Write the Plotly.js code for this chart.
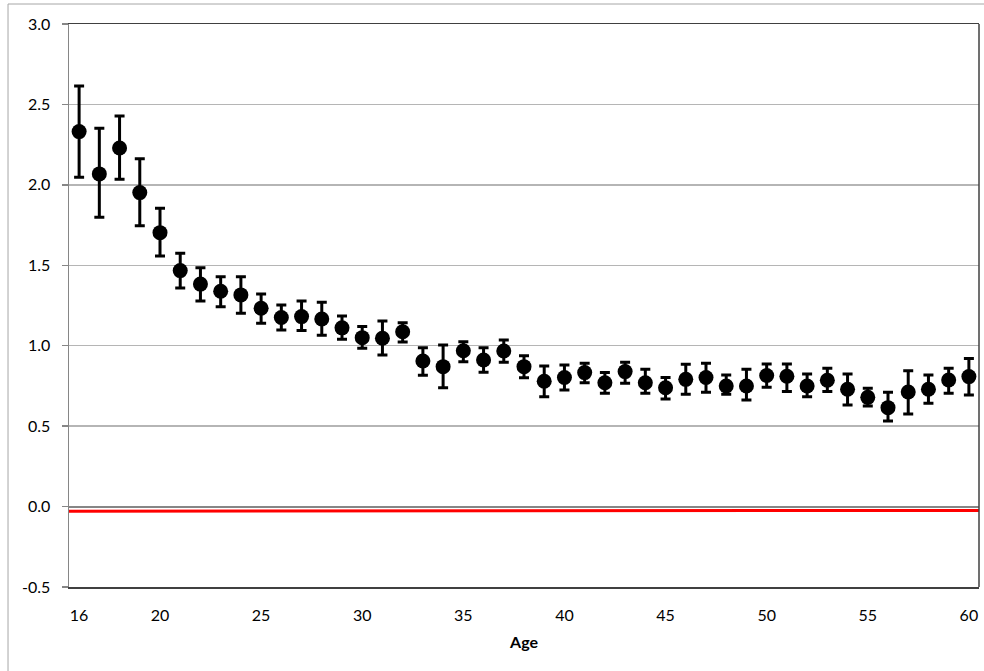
<!DOCTYPE html>
<html>
<head>
<meta charset="utf-8">
<script src="https://cdn.plot.ly/plotly-3.0.1.min.js"></script>
<style>html,body{margin:0;padding:0;background:#fff;}#chart{width:984px;height:671px;}</style>
</head>
<body>
<div id="chart"></div>
<script>
// Data
const ages = [16,17,18,19,20,21,22,23,24,25,26,27,28,29,30,31,32,33,34,35,36,37,38,39,40,41,42,43,44,45,46,47,48,49,50,51,52,53,54,55,56,57,58,59,60];
const means = [2.331,2.068,2.229,1.952,1.703,1.467,1.383,1.339,1.316,1.233,1.175,1.181,1.166,1.111,1.050,1.046,1.087,0.905,0.870,0.969,0.911,0.967,0.870,0.779,0.802,0.833,0.770,0.839,0.770,0.739,0.791,0.802,0.750,0.750,0.815,0.810,0.750,0.785,0.729,0.679,0.615,0.712,0.729,0.787,0.808];
const upper = [2.615,2.352,2.428,2.163,1.854,1.575,1.485,1.429,1.429,1.322,1.253,1.278,1.270,1.185,1.119,1.154,1.143,0.988,1.005,1.025,0.988,1.036,0.938,0.874,0.880,0.891,0.833,0.897,0.854,0.802,0.885,0.891,0.818,0.854,0.887,0.887,0.824,0.860,0.824,0.735,0.711,0.845,0.818,0.860,0.920];
const lower = [2.047,1.799,2.035,1.746,1.558,1.359,1.278,1.243,1.202,1.140,1.098,1.094,1.065,1.040,0.984,0.943,1.023,0.816,0.739,0.901,0.835,0.897,0.801,0.683,0.725,0.770,0.704,0.766,0.704,0.669,0.698,0.711,0.698,0.663,0.742,0.715,0.683,0.715,0.632,0.625,0.532,0.576,0.642,0.704,0.694];
const refX = [15.5, 60.5];
const refY = [-0.029, -0.024];
const xTicks = [16,20,25,30,35,40,45,50,55,60];
const yTicks = [-0.5,0,0.5,1,1.5,2,2.5,3];
const yTickText = ['-0.5','0.0','0.5','1.0','1.5','2.0','2.5','3.0'];

const errPlus = means.map((m,i)=>upper[i]-m);
const errMinus = means.map((m,i)=>m-lower[i]);

const traces = [
  {
    x: refX, y: refY, type: 'scatter', mode: 'lines',
    line: {color: '#ff0000', width: 3}, hoverinfo: 'skip', showlegend: false
  },
  {
    x: ages, y: means, type: 'scatter', mode: 'markers',
    marker: {color: '#000000', size: 15},
    error_y: {type: 'data', symmetric: false, array: errPlus, arrayminus: errMinus,
      color: '#000000', thickness: 3, width: 5},
    showlegend: false
  }
];

const font = "Lato, 'Open Sans', sans-serif";
const layout = {
  width: 984, height: 671,
  margin: {l: 69, r: 5, t: 24, b: 84, pad: 0},
  paper_bgcolor: '#ffffff', plot_bgcolor: '#ffffff',
  font: {family: font, size: 16, color: '#000000'},
  showlegend: false,
  xaxis: {
    range: [15.5, 60.5], tickvals: xTicks, ticktext: xTicks.map(String),
    showgrid: false, zeroline: false,
    showline: true, linecolor: '#404040', linewidth: 1.5, mirror: true,
    ticks: 'outside', ticklen: 13, tickcolor: 'rgba(0,0,0,0)',
    tickfont: {family: font, size: 16},
    title: {text: '<b>Age</b>', font: {family: font, size: 16}, standoff: 14}
  },
  yaxis: {
    range: [-0.5, 3.0], tickvals: yTicks, ticktext: yTickText,
    showgrid: true, gridcolor: '#b5b5b5', gridwidth: 1.5,
    zeroline: true, zerolinecolor: '#868686', zerolinewidth: 2,
    showline: true, linecolor: '#868686', linewidth: 1.5,
    ticks: 'outside', ticklen: 6, tickcolor: '#868686', tickwidth: 1.5,
    ticklabelstandoff: 8,
    tickfont: {family: font, size: 16}
  },
  shapes: [
    {type: 'rect', xref: 'paper', yref: 'paper', x0: -0.067, x1: 1.2, y0: -0.4, y1: 1.0355,
     line: {color: '#a6a6a6', width: 1}, fillcolor: 'rgba(0,0,0,0)', layer: 'below'},
    {type: 'line', xref: 'paper', yref: 'paper', x0: 1, x1: 1, y0: 0, y1: 1,
     line: {color: '#404040', width: 1.5}}
  ]
};

Plotly.newPlot('chart', traces, layout, {displayModeBar: false, staticPlot: true});
</script>
</body>
</html>
